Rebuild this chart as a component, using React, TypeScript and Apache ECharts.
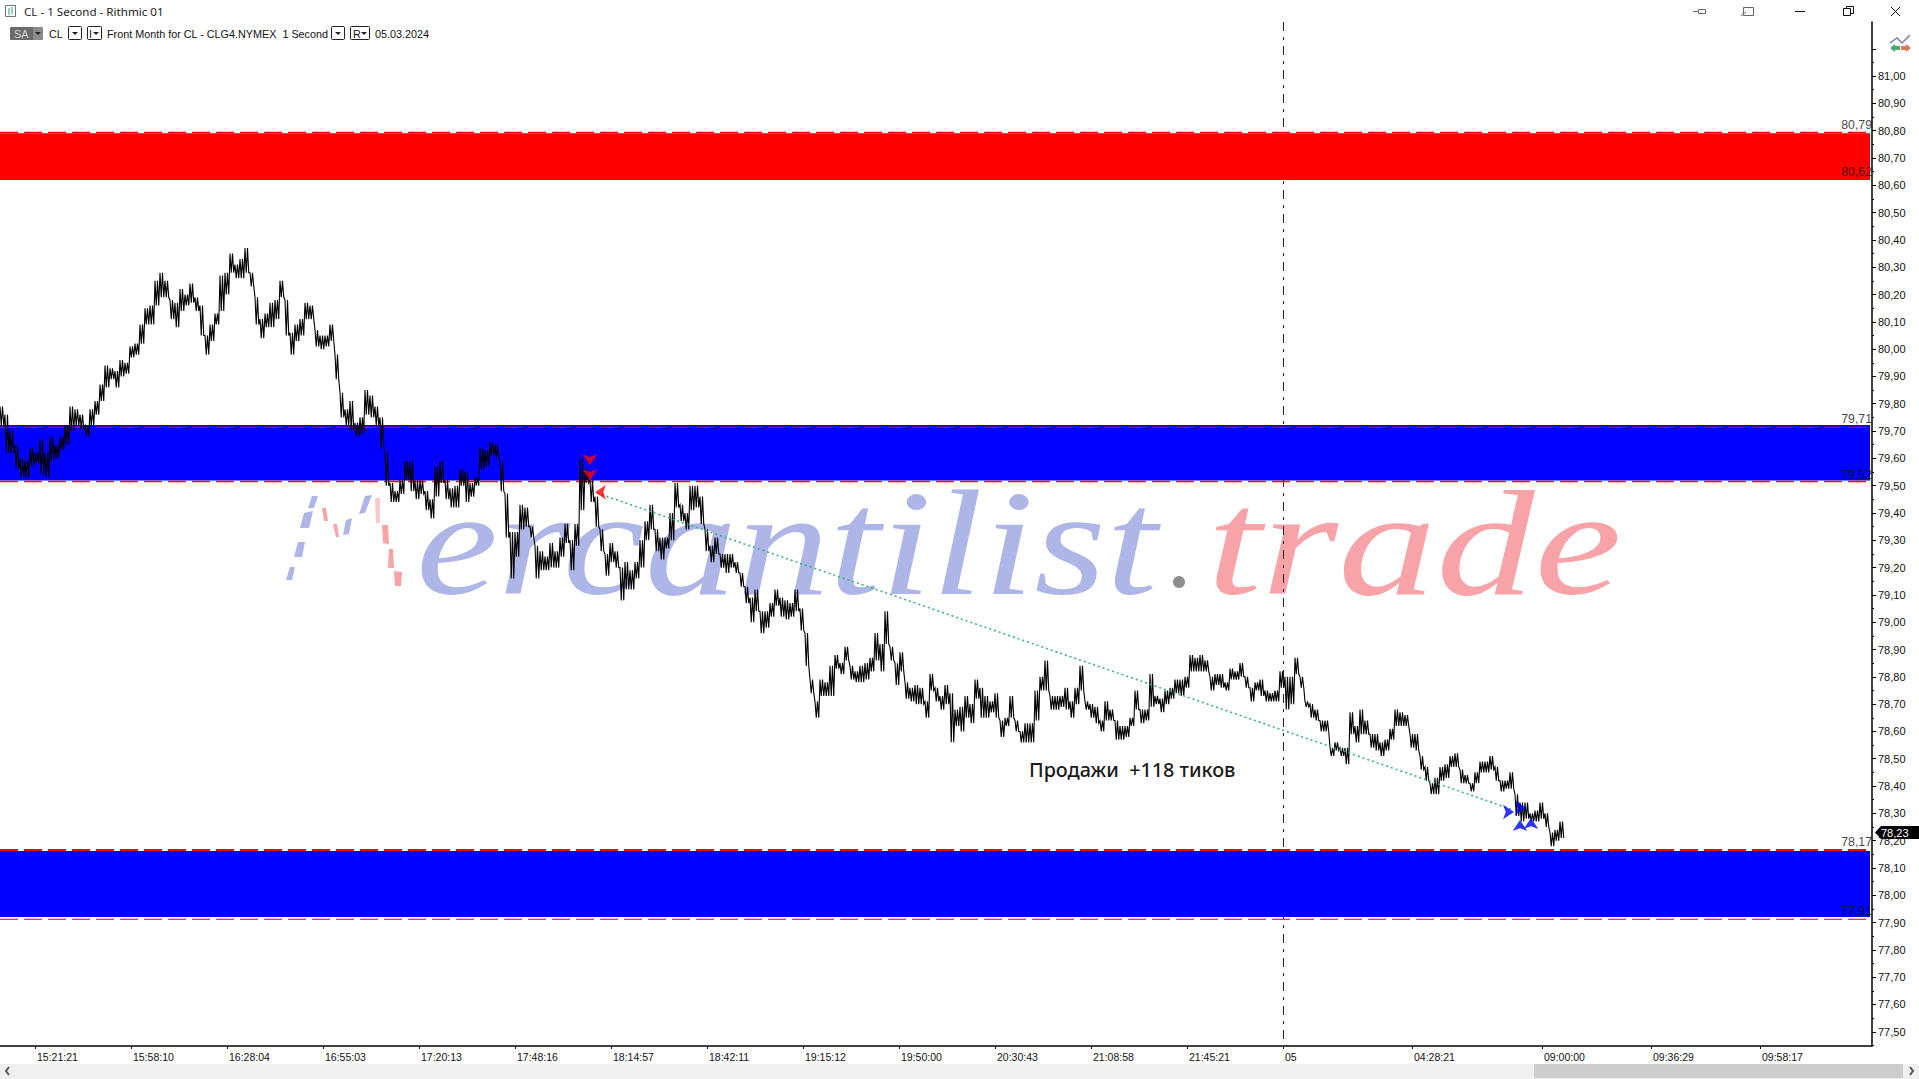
import React, { useEffect, useRef } from "react";
import * as echarts from "echarts";

const priceMin = 77.448;
const priceMax = 81.198;
const barMax = 748.8;
const barEnd = 748;

const majorTicks = [77.5,77.6,77.7,77.8,77.9,78.0,78.1,78.2,78.3,78.4,78.5,78.6,78.7,78.8,78.9,79.0,79.1,79.2,79.3,79.4,79.5,79.6,79.7,79.8,79.9,80.0,80.1,80.2,80.3,80.4,80.5,80.6,80.7,80.8,80.9,81.0];
const majorTickMarks = [...majorTicks, 81.1];
const minorTickMarks = [77.45,77.55,77.65,77.75,77.85,77.95,78.05,78.15,78.25,78.35,78.45,78.55,78.65,78.75,78.85,78.95,79.05,79.15,79.25,79.35,79.45,79.55,79.65,79.75,79.85,79.95,80.05,80.15,80.25,80.35,80.45,80.55,80.65,80.75,80.85,80.95,81.05];

const timeTickBars = [14,52.4,90.8,129.2,167.6,206,244.4,282.8,321.2,359.6,398,436.4,474.8,513.2,564.8,616.8,660.4,704];
const timeTickLabels = ["15:21:21","15:58:10","16:28:04","16:55:03","17:20:13","17:48:16","18:14:57","18:42:11","19:15:12","19:50:00","20:30:43","21:08:58","21:45:21","05","04:28:21","09:00:00","09:36:29","09:58:17"];

const highs = [
79.79,79.76,79.70,79.65,79.60,79.59,79.64,79.62,79.67,79.62,79.68,79.65,79.68,79.72,79.79,79.78,79.76,79.72,79.78,79.81,79.87,79.94,79.93,79.92,79.96,79.95,80.01,80.02,80.09,80.15,80.16,80.25,80.28,80.25,80.18,80.17,80.22,80.20,80.24,80.19,80.16,80.05,80.09,80.13,80.27,80.28,80.35,80.31,80.33,80.37,80.28,80.19,80.11,80.13,80.17,80.18,80.25,80.18,80.06,80.09,80.11,80.17,80.16,80.07,80.05,80.05,80.09,79.98,79.84,79.78,79.81,79.73,79.75,79.85,79.83,79.79,79.75,79.62,79.51,79.48,79.52,79.59,79.59,79.52,79.52,79.48,79.45,79.57,79.59,79.52,79.49,79.50,79.56,79.55,79.51,79.53,79.64,79.63,79.66,79.65,
79.59,79.47,79.33,79.33,79.43,79.42,79.35,79.28,79.26,79.24,79.29,79.26,79.31,79.36,79.30,79.36,79.60,79.56,79.52,79.46,79.34,79.25,79.29,79.26,79.20,79.22,79.19,79.22,79.30,79.37,79.43,79.34,79.31,79.31,79.40,79.51,79.43,79.40,79.50,79.50,79.46,79.34,79.28,79.31,79.25,79.25,79.25,79.22,79.18,79.13,79.09,79.12,79.04,79.04,79.07,79.12,79.09,79.08,79.07,79.12,79.05,78.96,78.79,78.71,78.79,78.78,78.84,78.88,78.85,78.91,78.84,78.82,78.84,78.85,78.87,78.96,78.92,79.04,78.91,78.85,78.89,78.78,78.76,78.77,78.76,78.71,78.81,78.76,78.73,78.77,78.74,78.68,78.69,78.73,78.70,78.79,
78.76,78.73,78.71,78.74,78.64,78.65,78.73,78.64,78.60,78.63,78.63,78.75,78.80,78.86,78.73,78.73,78.73,78.76,78.71,78.76,78.84,78.71,78.70,78.69,78.64,78.71,78.68,78.64,78.62,78.62,78.65,78.75,78.68,78.68,78.81,78.73,78.72,78.75,78.76,78.79,78.79,78.80,78.88,78.87,78.88,78.86,78.80,78.81,78.81,78.78,78.83,78.82,78.85,78.80,78.76,78.78,78.79,78.75,78.74,78.75,78.82,78.80,78.80,78.87,78.80,78.71,78.70,78.68,78.64,78.64,78.54,78.56,78.54,78.54,78.67,78.62,78.68,78.64,78.59,78.59,78.56,78.57,78.61,78.68,78.67,78.66,78.59,78.59,78.51,78.47,78.41,78.43,78.47,78.48,78.51,78.52,78.46,78.44,78.41,78.45,78.49,78.49,78.51,78.47,78.42,78.42,78.45,78.37,78.34,78.34,78.30,78.31,78.34,78.30,78.23,78.24,78.27
];
const lows = [
79.72,79.62,79.62,79.56,79.53,79.53,79.57,79.58,79.54,79.53,79.59,79.60,79.63,79.65,79.70,79.72,79.71,79.68,79.72,79.76,79.81,79.86,79.89,79.86,79.90,79.91,79.97,79.98,80.02,80.09,80.09,80.16,80.19,80.19,80.11,80.08,80.14,80.16,80.17,80.14,80.05,79.98,80.03,80.09,80.14,80.20,80.28,80.26,80.26,80.28,80.23,80.09,80.04,80.08,80.08,80.11,80.19,80.05,79.98,80.03,80.05,80.11,80.11,80.01,80.00,80.01,80.03,79.89,79.75,79.72,79.70,79.68,79.69,79.76,79.75,79.72,79.64,79.50,79.44,79.44,79.47,79.52,79.48,79.45,79.47,79.41,79.38,79.46,79.51,79.45,79.42,79.42,79.50,79.44,79.46,79.50,79.56,79.57,79.61,79.60,
79.48,79.31,79.16,79.24,79.34,79.35,79.31,79.16,79.19,79.19,79.20,79.20,79.24,79.29,79.19,79.28,79.41,79.51,79.44,79.35,79.26,79.17,79.22,79.20,79.08,79.12,79.12,79.16,79.20,79.30,79.34,79.26,79.23,79.27,79.30,79.42,79.37,79.34,79.41,79.42,79.36,79.26,79.22,79.25,79.20,79.18,79.20,79.18,79.13,79.07,79.00,79.04,78.96,78.98,79.02,79.06,79.02,79.01,79.02,79.04,78.97,78.84,78.74,78.65,78.73,78.73,78.73,78.83,78.81,78.86,78.79,78.78,78.78,78.79,78.82,78.86,78.82,78.92,78.86,78.77,78.82,78.72,78.71,78.70,78.70,78.65,78.75,78.71,78.68,78.70,78.56,78.62,78.60,78.65,78.63,78.72,
78.65,78.65,78.67,78.65,78.58,78.62,78.65,78.60,78.56,78.56,78.56,78.64,78.75,78.75,78.68,78.68,78.69,78.68,78.65,78.70,78.75,78.68,78.65,78.63,78.60,78.64,78.64,78.57,78.57,78.58,78.62,78.68,78.63,78.64,78.69,78.70,78.67,78.70,78.72,78.74,78.73,78.76,78.82,78.82,78.82,78.82,78.75,78.77,78.76,78.75,78.79,78.79,78.80,78.76,78.71,78.75,78.73,78.71,78.71,78.71,78.76,78.68,78.70,78.81,78.76,78.69,78.65,78.64,78.60,78.60,78.51,78.53,78.51,78.48,78.59,78.56,78.59,78.59,78.54,78.53,78.51,78.53,78.57,78.62,78.62,78.62,78.54,78.53,78.46,78.42,78.37,78.37,78.42,78.43,78.47,78.47,78.41,78.41,78.38,78.41,78.45,78.45,78.46,78.42,78.38,78.39,78.39,78.29,78.27,78.28,78.27,78.27,78.28,78.25,78.18,78.20,78.21
];

const bandRed = [80.791, 80.619];
const bandBlueMid = [79.722, 79.519];
const bandBlueLow = [78.162, 77.92];
const levelLines = [80.793, 79.714, 79.515, 78.166, 77.912];
const levelWidths = [1.5, 1, 1.5, 2, 1];
const levelLabels = [
  { price: 80.79, at: 80.80 },
  { price: 80.62, at: 80.627 },
  { price: 79.71, at: 79.722 },
  { price: 79.52, at: 79.517 },
  { price: 78.17, at: 78.172 },
  { price: 77.91, at: 77.92 },
];
const sessionBar = 513.4;
const tradeLine = [[238.8, 79.473], [605.6, 78.312]];
const sellMarks = [[236, 79.575, 180], [236, 79.52, 180], [238, 79.476, 90]];
const buyMarks = [[605.6, 78.305, -90], [608, 78.276, 0], [610.4, 78.32, -90], [612.4, 78.283, 0]];
const lastPrice = "78,23";
const note = "Продажи  +118 тиков";

const priceLabel = (v: number) => v.toFixed(2).replace(".", ",");
const txt = (x: number, y: number, text: string, extra: any = {}) => ({
  type: "text", x, y, z: 20, silent: true,
  style: { text, fill: "#111", font: '10.8px "Liberation Sans"', textVerticalAlign: "middle", ...extra },
});
const box = (x: number, y: number, w: number, h: number) => ({
  type: "rect", z: 20, silent: true, shape: { x: x + 0.5, y: y + 0.5, width: w, height: h, r: 1 },
  style: { fill: "#fff", stroke: "#222", lineWidth: 1 },
});
const tri = (x: number, y: number, fill = "#222") => ({
  type: "polygon", z: 21, silent: true, shape: { points: [[x, y], [x + 6, y], [x + 3, y + 3]] }, style: { fill },
});
const seg = (x1: number, y1: number, x2: number, y2: number, stroke = "#222", lineWidth = 1) => ({
  type: "line", z: 20, silent: true, shape: { x1, y1, x2, y2 }, style: { stroke, lineWidth },
});

const wmBlue = "#aeb6e8";
const wmRed = "#f8a3a7";
const wmPiece = (fill: string, pts: number[][]) => ({
  type: "polygon", z: 1, silent: true, shape: { points: pts }, style: { fill },
});

const graphics: any[] = [
  // watermark
  { type: "text", x: 416, y: 618, z: 1, silent: true, scaleX: 1.23, style: { text: "ercantilist", fill: wmBlue, font: 'italic 150px "Liberation Serif"', textVerticalAlign: "bottom" } },
  { type: "text", x: 1207, y: 618, z: 1, silent: true, scaleX: 1.31, style: { text: "trade", fill: wmRed, font: 'italic 150px "Liberation Serif"', textVerticalAlign: "bottom" } },
  { type: "circle", z: 1, silent: true, shape: { cx: 1179, cy: 582, r: 6 }, style: { fill: "#8e8e8e" } },
  wmPiece(wmBlue, [[312, 496], [318, 496], [314, 508], [308, 508]]),
  wmPiece(wmBlue, [[304, 513], [313, 511], [309, 528], [300, 528]]),
  wmPiece(wmBlue, [[298, 542], [305, 542], [302, 557], [294, 557]]),
  wmPiece(wmBlue, [[290, 567], [295, 567], [292, 580], [286, 580]]),
  wmPiece(wmBlue, [[346, 520], [352, 518], [349, 534], [343, 535]]),
  wmPiece(wmBlue, [[365, 496], [372, 495], [365, 513], [359, 514]]),
  wmPiece(wmRed, [[322, 508], [326, 508], [328, 521], [324, 521]]),
  wmPiece(wmRed, [[333, 524], [337, 524], [339, 537], [336, 537]]),
  wmPiece("#f7c9cb", [[375, 498], [380, 498], [380, 523], [376, 523]]),
  wmPiece(wmRed, [[382, 525], [388, 525], [389, 544], [383, 543]]),
  wmPiece(wmRed, [[389, 549], [393, 549], [394, 568], [388, 568]]),
  wmPiece(wmRed, [[394, 571], [402, 572], [401, 586], [395, 586]]),
  // note
  txt(1029, 769, note, { font: '500 19.8px "Noto Sans"', fill: "#1a1a1a" }),
  // title bar
  { type: "rect", z: 20, silent: true, shape: { x: 5.5, y: 5.5, width: 10, height: 11 }, style: { fill: "#fff", stroke: "#6a7a70", lineWidth: 1 } },
  seg(9, 8, 9, 15, "#2aa876", 1), seg(12, 7, 12, 14, "#2aa876", 1),
  txt(24, 11, "CL - 1 Second - Rithmic 01", { font: '11.6px "Noto Sans"', fill: "#222" }),
  { type: "rect", z: 20, silent: true, shape: { x: 10, y: 27, width: 32, height: 13, r: 1 }, style: { fill: "#6b6b6b" } },
  { type: "rect", z: 20, silent: true, shape: { x: 33, y: 27, width: 10, height: 13, r: 1 }, style: { fill: "#8a8a8a" } },
  txt(14, 33.5, "SA", { fill: "#d8d8d8" }),
  tri(35, 32),
  txt(49, 33.5, "CL"),
  box(68, 26, 13, 13), tri(72, 32),
  box(87, 26, 14, 13), txt(89, 33.5, "I"), tri(93, 32),
  txt(107, 33.5, "Front Month for CL - CLG4.NYMEX  1 Second"),
  box(331, 26, 13, 13), tri(335, 32),
  box(350, 26, 19, 13), txt(353, 33.5, "R"), tri(361, 32),
  txt(375, 33.5, "05.03.2024"),
  // window controls
  seg(1693, 11.5, 1698, 11.5, "#666"), { type: "rect", z: 20, silent: true, shape: { x: 1698.5, y: 9.5, width: 7, height: 4 }, style: { fill: "#fff", stroke: "#666", lineWidth: 1 } },
  { type: "rect", z: 20, silent: true, shape: { x: 1743.5, y: 7.5, width: 10, height: 8 }, style: { fill: "#fff", stroke: "#666", lineWidth: 1 } },
  seg(1741, 16, 1746, 12, "#666"),
  seg(1795, 11.5, 1805, 11.5, "#111"),
  { type: "rect", z: 20, silent: true, shape: { x: 1846.5, y: 6.5, width: 7, height: 7 }, style: { fill: "#fff", stroke: "#111", lineWidth: 1 } },
  { type: "rect", z: 21, silent: true, shape: { x: 1843.5, y: 8.5, width: 7, height: 7 }, style: { fill: "#fff", stroke: "#111", lineWidth: 1 } },
  seg(1891, 7, 1900, 16, "#111"), seg(1900, 7, 1891, 16, "#111"),
  // chart-trader icon
  { type: "polyline", z: 20, silent: true, shape: { points: [[1890, 43], [1897, 38], [1902, 43], [1910, 35]] }, style: { stroke: "#7482a8", fill: "none", lineWidth: 1.5 } },
  { type: "polygon", z: 20, silent: true, shape: { points: [[1890, 48], [1895, 44], [1895, 46], [1900, 46], [1900, 50], [1895, 50], [1895, 52]] }, style: { fill: "#4aa874" } },
  { type: "polygon", z: 20, silent: true, shape: { points: [[1911, 48], [1906, 44], [1906, 46], [1901, 46], [1901, 50], [1906, 50], [1906, 52]] }, style: { fill: "#e0735a" } },
  // last price flag
  { type: "polygon", z: 30, silent: true, shape: { points: [[1875, 832.5], [1881, 826], [1919, 826], [1919, 839], [1881, 839]] }, style: { fill: "#000" } },
  { type: "text", x: 1881, y: 833, z: 31, silent: true, style: { text: lastPrice, fill: "#fff", font: '11px "Liberation Sans"', textVerticalAlign: "middle" } },
  // scroll bar
  { type: "rect", z: 20, silent: true, shape: { x: 0, y: 1064, width: 1919, height: 15 }, style: { fill: "#f0f0f0" } },
  { type: "rect", z: 21, silent: true, shape: { x: 1534, y: 1064, width: 369, height: 14 }, style: { fill: "#cdcdcd" } },
  { type: "polyline", z: 21, silent: true, shape: { points: [[9, 1067], [6, 1071], [9, 1075]] }, style: { stroke: "#555", fill: "none", lineWidth: 2 } },
  { type: "polyline", z: 21, silent: true, shape: { points: [[1910, 1067], [1913, 1071], [1910, 1075]] }, style: { stroke: "#555", fill: "none", lineWidth: 2 } },
];

const band = (values: number[], color: string) => ({
  type: "line", data: [], z: 3, silent: true,
  markArea: {
    silent: true, z: 3, itemStyle: { color, borderWidth: 0 }, label: { show: false },
    data: [[{ xAxis: 0, yAxis: values[0] }, { xAxis: barEnd, yAxis: values[1] }]],
  },
});

export default function App() {
  const ref = useRef<HTMLDivElement>(null);
  useEffect(() => {
    if (!ref.current) return;
    const chart = echarts.init(ref.current, undefined, { renderer: "svg" });
    // each bar is traced as its high/low range, stroked back and forth like a tick chart
    const priceData: number[][] = [];
    highs.forEach((h, i) => {
      priceData.push([2 * i, h]);
      priceData.push([2 * i + 0.5, lows[i]]);
      priceData.push([2 * i + 1, h]);
      priceData.push([2 * i + 1.5, lows[i]]);
    });
    const marks = (data: number[][], color: string) => ({
      type: "scatter", z: 7, silent: true, symbol: "arrow", symbolSize: 11,
      itemStyle: { color },
      data: data.map((d) => ({ value: [d[0], d[1]], symbolRotate: d[2] })),
    });
    chart.setOption({
      animation: false,
      backgroundColor: "#fff",
      grid: { left: 0, right: 47, top: 22, bottom: 33, containLabel: false },
      xAxis: {
        type: "value", min: 0, max: barMax, splitLine: { show: false },
        axisLine: { show: true, onZero: false, lineStyle: { color: "#000", width: 1.5 } },
        axisTick: { show: true, customValues: timeTickBars, length: 3, lineStyle: { color: "#000" } },
        axisLabel: {
          show: true, customValues: timeTickBars, align: "left", margin: 5, padding: [0, 0, 0, 2],
          color: "#111", fontFamily: "Liberation Sans", fontSize: 10.5,
          formatter: (v: number) => timeTickLabels[timeTickBars.indexOf(v)] ?? "",
        },
      },
      yAxis: [
        {
          type: "value", position: "right", min: priceMin, max: priceMax, splitLine: { show: false },
          axisLine: { show: true, onZero: false, lineStyle: { color: "#000", width: 1.5 } },
          axisTick: { show: true, customValues: majorTickMarks, length: 4, lineStyle: { color: "#000" } },
          axisLabel: {
            show: true, customValues: majorTicks, margin: 6, color: "#111",
            fontFamily: "Liberation Sans", fontSize: 11, formatter: priceLabel,
          },
        },
        {
          type: "value", position: "left", offset: -1872, min: priceMin, max: priceMax, splitLine: { show: false },
          axisLine: { show: false },
          axisTick: { show: true, inside: true, customValues: minorTickMarks, length: 2, lineStyle: { color: "#000" } },
          axisLabel: { show: false },
        },
      ],
      graphic: { elements: graphics },
      series: [
        {
          type: "line", z: 2, silent: true, symbol: "none",
          lineStyle: { color: "#222", width: 1, type: [9, 6, 3, 6] },
          data: [[sessionBar, priceMax], [sessionBar, priceMin]],
        },
        band(bandRed, "#ff0000"),
        band(bandBlueMid, "#0000ff"),
        band(bandBlueLow, "#0000ff"),
        ...levelLines.map((v, i) => ({
          type: "line", z: 4, silent: true, symbol: "none",
          lineStyle: { color: "#ff0000", width: levelWidths[i], type: [18, 6] },
          data: [[0, v], [barEnd, v]],
        })),
        {
          type: "scatter", z: 6, silent: true, symbolSize: 0,
          label: {
            show: true, position: "top", align: "right", distance: 0, color: "#111",
            fontFamily: "Liberation Sans", fontSize: 12.3,
            formatter: (p: any) => priceLabel(levelLabels[p.dataIndex].price),
          },
          data: levelLabels.map((l) => [barMax, l.at]),
        },
        {
          type: "line", z: 5, silent: true, symbol: "none",
          lineStyle: { color: "#000", width: 1.1, join: "miter" },
          data: priceData,
        },
        {
          type: "line", z: 6, silent: true, symbol: "none",
          lineStyle: { color: "#35ad7c", width: 1.5, type: [2, 3] },
          data: tradeLine,
        },
        marks(sellMarks, "#ff0000"),
        marks(buyMarks, "#0000ff"),
      ],
    });
    return () => chart.dispose();
  }, []);
  return <div ref={ref} style={{ position: "fixed", left: 0, top: 0, width: 1919, height: 1079 }} />;
}
